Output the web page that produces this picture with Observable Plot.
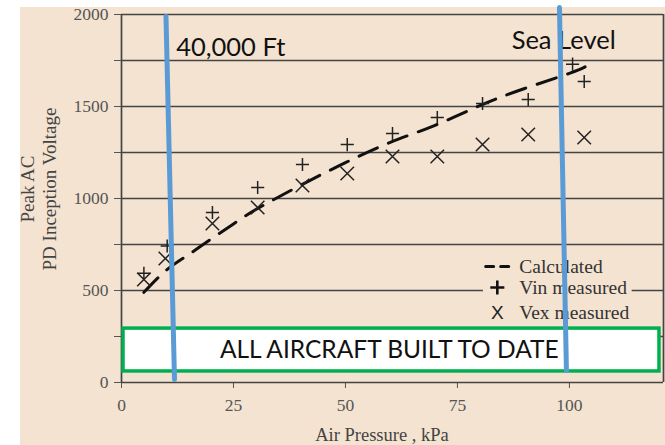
<!DOCTYPE html>
<html><head><meta charset="utf-8">
<script src="https://cdn.jsdelivr.net/npm/d3@7"></script>
<script src="https://cdn.jsdelivr.net/npm/@observablehq/plot@0.6"></script>
<style>
body{margin:0;background:#fff;}
#wrap{position:relative;width:665px;height:445px;overflow:hidden;}
#bg{position:absolute;left:20px;top:7px;right:0;bottom:0;background:#f3e3d0;}
#chart{position:absolute;left:0;top:0;}
.ytitle{position:absolute;left:39px;top:189px;transform:translate(-50%,-50%) rotate(-90deg);font-family:"Liberation Serif",serif;font-size:19px;line-height:22px;text-align:center;white-space:nowrap;color:#444;}
.xtitle{position:absolute;left:382px;top:425px;transform:translateX(-50%);font-family:"Liberation Serif",serif;font-size:18.5px;color:#444;white-space:nowrap;}
</style></head><body>
<div id="wrap"><div id="bg"></div><div id="chart"></div>
<div class="ytitle">Peak AC<br>PD Inception Voltage</div>
<div class="xtitle">Air Pressure , kPa</div>
</div>
<script>
// ---- data ----
const vinPressure = [5, 10.2, 20.3, 30.4, 40.4, 50.4, 60.5, 70.5, 80.6, 90.8, 100.7, 103.3];
const vinVoltage  = [594, 742, 924, 1060, 1185, 1293, 1353, 1440, 1516, 1538, 1730, 1636];
const vexPressure = [5, 9.8, 20.3, 30.4, 40.4, 50.4, 60.5, 70.5, 80.6, 90.8, 103.3];
const vexVoltage  = [560, 674, 864, 951, 1071, 1136, 1228, 1228, 1293, 1348, 1332];
const calcPressure = [5, 10, 15, 20, 25, 30, 40, 50, 60, 70, 80, 90, 100, 103.5];
const calcVoltage  = [490, 610, 695, 780, 862, 940, 1072, 1195, 1305, 1398, 1505, 1598, 1680, 1715];
const xTicks = [0, 25, 50, 75, 100];
const yTicks = [0, 250, 500, 750, 1000, 1250, 1500, 1750, 2000];
const legendLabels = ["Calculated", "Vin measured", "Vex measured"];
const altLabels = ["40,000 Ft", "Sea Level"];
const boxLabel = "ALL AIRCRAFT BUILT TO DATE";
// annotation lines (data units: kPa, V)
const line40k = [{x: 9.93, y: 1989}, {x: 11.83, y: 16}];
const lineSea = [{x: 97.77, y: 2038}, {x: 99.33, y: 65}];

// ---- layout (data units) ----
const box = {x1: 0.45, x2: 120.1, y1: 60, y2: 293};
const legendBox = {x1: 80.8, x2: 114, y1: 326, y2: 685};
const legendSymX = 83.9, legendTextX = 88.8, legendY = [630, 516, 380];
const altPos = [{x: 12.2, y: 1821}, {x: 87.1, y: 1859}];

const vin = vinPressure.map((p, i) => ({p, v: vinVoltage[i]}));
const vex = vexPressure.map((p, i) => ({p, v: vexVoltage[i]}));
const calc = calcPressure.map((p, i) => ({p, v: calcVoltage[i]}));
const legendRows = legendLabels.map((t, i) => ({t, y: legendY[i]}));
const alts = altLabels.map((t, i) => ({t, ...altPos[i]}));

const chart = Plot.plot({
  width: 665, height: 445,
  marginLeft: 121, marginRight: 2, marginTop: 14, marginBottom: 63,
  style: {background: "transparent", fontFamily: "Liberation Serif, serif", fontSize: "17.5px", color: "#555", overflow: "visible"},
  x: {domain: [0, 121], ticks: xTicks, tickSize: 6, tickPadding: 10, label: null},
  y: {domain: [0, 2000], ticks: yTicks, tickFormat: d => d % 500 === 0 ? String(d) : "", tickSize: 7, tickPadding: 6, label: null},
  marks: [
    Plot.ruleY(yTicks, {stroke: "#444", strokeWidth: 1.7}),
    Plot.ruleX([0, 121], {stroke: "#444", strokeWidth: 1.7}),
    Plot.rect([box], {x1: "x1", x2: "x2", y1: "y1", y2: "y2", fill: "white", stroke: "#00b050", strokeWidth: 3.5}),
    Plot.text([boxLabel], {x: (box.x1 + box.x2) / 2 - 0.5, y: (box.y1 + box.y2) / 2, text: d => d, fontFamily: "Lato, Liberation Sans, sans-serif", fontSize: 24.5, fill: "#111"}),
    Plot.line(calc, {x: "p", y: "v", curve: "natural", stroke: "#111", strokeWidth: 3, strokeDasharray: "20,12"}),
    Plot.dot(vin, {x: "p", y: "v", symbol: "plus", r: 4.3, stroke: "#222", strokeWidth: 1.5}),
    Plot.dot(vex, {x: "p", y: "v", symbol: "times", r: 6.2, stroke: "#222", strokeWidth: 1.5}),
    Plot.rect([legendBox], {x1: "x1", x2: "x2", y1: "y1", y2: "y2", fill: "#f3e3d0"}),
    Plot.line([{x: 81.3, y: legendY[0]}, {x: 86.6, y: legendY[0]}], {x: "x", y: "y", stroke: "#111", strokeWidth: 3, strokeDasharray: "8,7"}),
    Plot.dot([{x: legendSymX, y: legendY[1]}], {x: "x", y: "y", symbol: "plus", r: 4.6, stroke: "#111", strokeWidth: 2.6}),
    Plot.text(["X"], {x: legendSymX, y: legendY[2], text: d => d, fontFamily: "Liberation Sans, sans-serif", fontSize: 19, fill: "#222"}),
    Plot.text(legendRows, {x: legendTextX, y: "y", text: "t", textAnchor: "start", fontFamily: "Liberation Serif, serif", fontSize: 19.5, fill: "#333"}),
    Plot.text(alts, {x: "x", y: "y", text: "t", textAnchor: "start", fontFamily: "Lato, Liberation Sans, sans-serif", fontSize: 25.5, fill: "#111"}),
    Plot.line(line40k, {x: "x", y: "y", stroke: "#5b9bd5", strokeWidth: 5}),
    Plot.line(lineSea, {x: "x", y: "y", stroke: "#5b9bd5", strokeWidth: 5})
  ]
});
document.getElementById("chart").append(chart);
</script>
</body></html>
